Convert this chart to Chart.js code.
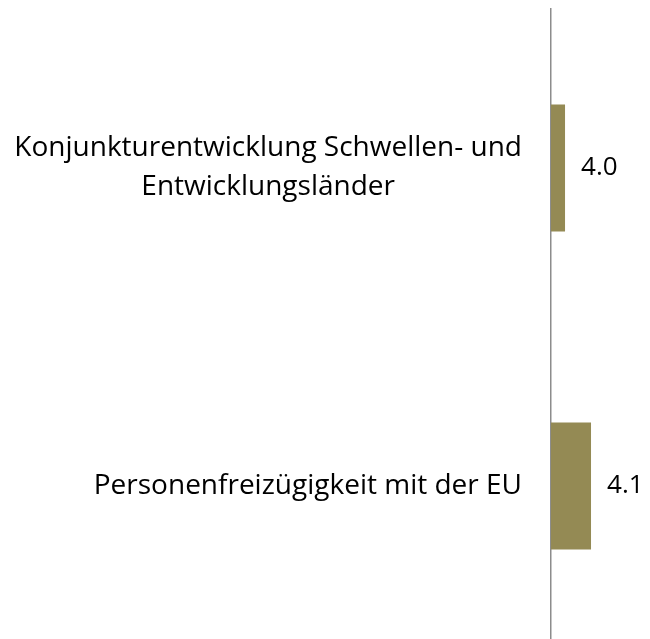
<!DOCTYPE html>
<html>
<head>
<meta charset="utf-8">
<script src="https://cdn.jsdelivr.net/npm/chart.js@4"></script>
<style>
  html, body { margin: 0; padding: 0; background: #fff; overflow: hidden; }
  #wrap { width: 650px; height: 645px; position: relative; }
</style>
</head>
<body>
<div id="wrap"><canvas id="chart"></canvas></div>
<script>
// Chart data
const categories = [
    ['Konjunkturentwicklung Schwellen- und', 'Entwicklungsländer'],
    ['Personenfreizügigkeit mit der EU']
];
const values = [4.0, 4.1];
const valueLabels = ['4.0', '4.1'];

const barColor = '#948A54';
const fontFamily = '"Open Sans", "Noto Sans", sans-serif';

// Category labels (drawn at the y scale's tick positions) and value labels
const labelPlugin = {
    id: 'labels',
    afterDatasetsDraw(chart) {
        const ctx = chart.ctx;
        const yScale = chart.scales.y;
        const meta = chart.getDatasetMeta(0);
        ctx.save();
        ctx.fillStyle = '#000';
        ctx.textBaseline = 'middle';

        // category labels, centred lines, right edge near the axis
        ctx.font = '28px ' + fontFamily;
        const lineHeight = 39;
        categories.forEach((lines, i) => {
            const cy = yScale.getPixelForValue(i);
            const widths = lines.map(l => ctx.measureText(l).width);
            const maxW = Math.max(...widths);
            const right = chart.chartArea.left - 29;
            lines.forEach((line, j) => {
                const y = cy + (j - (lines.length - 1) / 2) * lineHeight;
                ctx.textAlign = 'center';
                ctx.fillText(line, right - maxW / 2, y);
            });
        });

        // value labels
        ctx.font = '26px ' + fontFamily;
        ctx.textAlign = 'left';
        meta.data.forEach((bar, i) => {
            ctx.fillText(valueLabels[i], bar.x + 16, bar.y);
        });
        ctx.restore();
    }
};

const ctx = document.getElementById('chart').getContext('2d');
new Chart(ctx, {
    type: 'bar',
    data: {
        labels: categories,
        datasets: [{
            data: values,
            backgroundColor: barColor,
            borderWidth: 0,
            categoryPercentage: 1,
            barPercentage: 0.4
        }]
    },
    options: {
        indexAxis: 'y',
        responsive: true,
        maintainAspectRatio: false,
        animation: false,
        layout: { padding: { top: 9, right: 0, bottom: 0, left: 0 } },
        plugins: {
            legend: { display: false },
            tooltip: { enabled: false }
        },
        scales: {
            x: {
                display: false,
                min: 3.946,
                max: 4.327
            },
            y: {
                afterFit: scale => { scale.width = 551; },
                grid: { display: false },
                border: { display: true, color: '#8c8c8c', width: 1.5 },
                ticks: { display: false }
            }
        }
    },
    plugins: [labelPlugin]
});
</script>
</body>
</html>
